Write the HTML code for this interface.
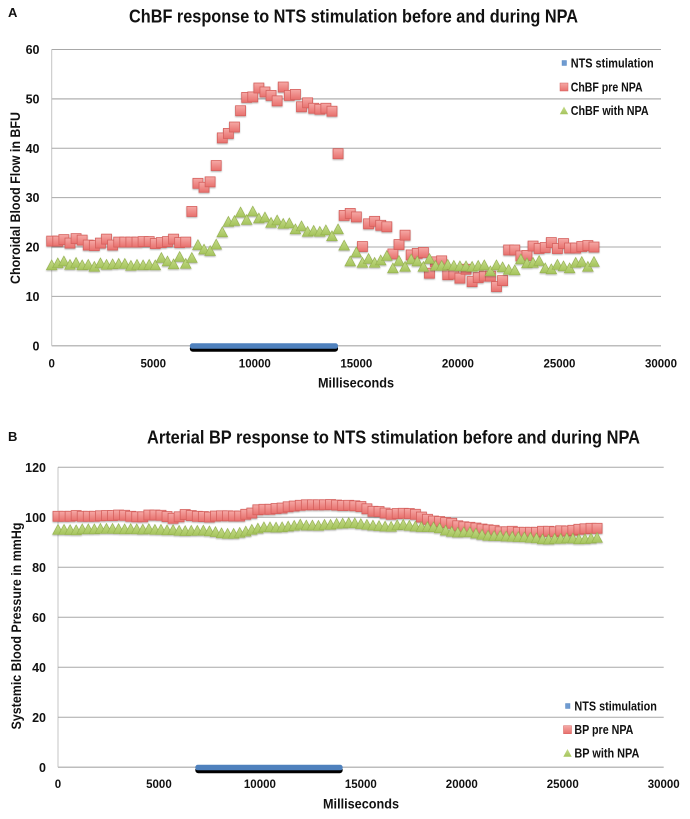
<!DOCTYPE html>
<html>
<head>
<meta charset="utf-8">
<title>ChBF and BP response to NTS stimulation</title>
<style>
html,body{margin:0;padding:0;background:#fff;}
svg{display:block;font-family:"Liberation Sans",sans-serif;filter:blur(0.3px);}
text{fill:#111;font-weight:bold;}
</style>
</head>
<body>
<svg id="figure" width="690" height="819" viewBox="0 0 690 819" xmlns="http://www.w3.org/2000/svg">
<defs>
<linearGradient id="redGrad" x1="0" y1="0" x2="0" y2="1"><stop offset="0" stop-color="#f5a9a6"/><stop offset="1" stop-color="#e8706d"/></linearGradient>
<linearGradient id="greenGrad" x1="0" y1="0" x2="0" y2="1"><stop offset="0" stop-color="#c6dc8c"/><stop offset="1" stop-color="#a5c45c"/></linearGradient>
<filter id="markerShadow" x="-10%" y="-10%" width="120%" height="120%"><feDropShadow dx="0" dy="1" stdDeviation="0.7" flood-color="#000" flood-opacity="0.3"/></filter>
</defs>
<text x="8" y="17" font-size="13">A</text>
<text x="129" y="22.5" font-size="18" textLength="449" lengthAdjust="spacingAndGlyphs">ChBF response to NTS stimulation before and during NPA</text>
<text transform="translate(20,198) rotate(-90)" text-anchor="middle" font-size="13.5" textLength="172" lengthAdjust="spacingAndGlyphs">Choroidal Blood Flow in BFU</text>
<text x="356" y="387.5" text-anchor="middle" font-size="13.5" textLength="76" lengthAdjust="spacingAndGlyphs">Milliseconds</text>
<text x="8" y="441" font-size="13">B</text>
<text x="147" y="443.5" font-size="18" textLength="493" lengthAdjust="spacingAndGlyphs">Arterial BP response to NTS stimulation before and during NPA</text>
<text transform="translate(21,626) rotate(-90)" text-anchor="middle" font-size="13.5" textLength="207" lengthAdjust="spacingAndGlyphs">Systemic Blood Pressure in mmHg</text>
<text x="361" y="808.5" text-anchor="middle" font-size="13.5" textLength="76" lengthAdjust="spacingAndGlyphs">Milliseconds</text>
</svg>
<script>
const timeMs = [0,300,600,900,1200,1500,1800,2100,2400,2700,3000,3300,3600,3900,4200,4500,4800,5100,5400,5700,6000,6300,6600,6900,7200,7500,7800,8100,8400,8700,9000,9300,9600,9900,10200,10500,10800,11100,11400,11700,12000,12300,12600,12900,13200,13500,13800,14100,14400,14700,15000,15300,15600,15900,16200,16500,16800,17100,17400,17700,18000,18300,18600,18900,19200,19500,19800,20100,20400,20700,21000,21300,21600,21900,22200,22500,22800,23100,23400,23700,24000,24300,24600,24900,25200,25500,25800,26100,26400,26700];
const xTickValues = [0,5000,10000,15000,20000,25000,30000];
const chbfTicks = [0,10,20,30,40,50,60];
const bpTicks = [0,20,40,60,80,100,120];
const stimStartEnd = [6900,14000];
const chbfPre = [21.2,21.2,21.5,20.8,21.7,21.4,20.4,20.3,20.8,21.6,20.4,21,21,21,21,21.1,21.1,20.7,20.9,21.1,21.6,20.9,21,27.2,32.9,32.1,33.2,36.5,42.1,43,44.3,47.6,50.3,50.4,52.2,51.4,50.7,49.6,52.4,50.7,50.9,48.4,49.2,48.1,47.9,48.1,47.5,38.9,26.4,26.8,26.1,20.1,24.7,25.2,24.4,24.1,18.6,20.5,22.4,18.4,18.7,18.9,14.7,17,17.2,14.4,14.5,13.7,15.5,13,13.8,14.1,14.1,12,13.2,19.4,19.4,18.2,18.3,20.2,19.7,19.9,20.9,19.7,20.7,19.8,19.8,20.1,20.3,20];
const chbfNpa = [16.3,16.7,17.1,16.4,16.8,16.3,16.4,16,16.7,16.4,16.5,16.6,16.6,16.2,16.4,16.3,16.4,16.3,17.8,17.1,16.5,18,16.6,17.8,20.4,19.5,19.2,20.5,23,25.1,25.3,27,25.5,27.2,25.8,26,24.9,25.4,24.7,24.8,23.6,24.2,23.1,23.3,23.1,23.4,22.2,23.6,20.3,17.1,18.9,16.8,17.6,16.8,17.3,18.2,15.7,17.2,16,17.5,17.1,16,17.6,16.2,16.2,16.4,16.2,16.1,16.1,16,16.2,16.3,15.1,16.3,15.9,15.4,15.3,17.5,16.7,16.8,17.2,15.7,15.5,16.4,16.1,15.7,16.8,17,16,17];
const bpPre = [100.4,100.4,100.4,100.7,100.4,100.4,100.4,100.6,100.7,100.7,100.9,100.8,100.4,100.2,100.2,100.9,100.9,100.8,100.3,99.6,100.2,101.1,100.7,100.4,100.3,100.1,100.5,100.6,100.6,100.5,100.5,101.2,101.7,103,103.2,103.2,103.5,103.7,104.2,104.5,104.8,105,105,105,105,105.1,104.9,104.7,104.8,104.6,104.3,103.4,102.4,102.3,101.7,101.2,101.5,101.6,101.5,101.2,100.1,99.2,98.5,98.3,97.9,97.6,96.6,96.2,96,95.7,95.3,95,94.8,94.2,94.2,94.4,94,94,94,94,94.4,94.4,94.2,94.6,94.5,94.8,95.2,95.4,95.6,95.6];
const bpNpa = [95,95,94.9,94.8,95.2,95.2,95.2,95.4,95.4,95.4,95.3,95.2,95.3,95.2,95.1,95.3,95,95,94.8,94.9,94.6,94.5,94.6,94.6,94.7,94.4,94.1,93.6,93.4,93.4,93.8,94.3,95,95.5,96,96,95.9,96,96.3,96.6,97.1,96.7,96.7,96.6,97,97,97.4,97.5,97.7,97.6,97.3,97,96.7,96.5,96.3,96.2,96.8,97,96.6,96.3,96.1,96.1,96,95.6,94.7,94.2,93.9,94,94,93.5,93,92.6,92.5,92.5,92.3,92.2,92.1,92,91.8,91.6,91.2,91.1,91.4,91.4,91.6,91.5,91.2,91.3,91.5,91.8];
const xMax = 30000;

const svg = document.getElementById('figure');
const NS = 'http://www.w3.org/2000/svg';

function mk(tag, attrs, parent, content) {
  const el = document.createElementNS(NS, tag);
  for (const k in attrs) el.setAttribute(k, attrs[k]);
  if (content !== undefined) el.textContent = content;
  parent.appendChild(el);
  return el;
}

function drawChart(cfg) {
  const xScale = v => cfg.left + (v / xMax) * (cfg.right - cfg.left);
  const yMax = cfg.yTicks[cfg.yTicks.length - 1];
  const yScale = v => cfg.zeroY - (v / yMax) * (cfg.zeroY - cfg.topY);

  const axisLine = mk('line', {x1: cfg.left, x2: cfg.left, y1: cfg.topY, y2: cfg.zeroY, stroke: '#c4c4c4', 'stroke-width': 1}, svg);
  
  

  cfg.yTicks.forEach(t => {
    const y = yScale(t);
    const heavy = t === 0 || t === cfg.heavyTick;
    const grid = mk('line', {x1: cfg.left, x2: cfg.right, y1: y, y2: y, stroke: heavy ? '#bdbdbd' : '#a8a8a8', 'stroke-width': heavy ? 1.5 : 1}, svg);
    
    
    const lab = mk('text', {x: cfg.yLabelRight, y: y + 4.5, 'text-anchor': 'end', 'font-size': 12.5}, svg, String(t));
    
    
  });

  xTickValues.forEach(t => {
    const lab = mk('text', {x: xScale(t), y: cfg.xLabelY, 'text-anchor': 'middle', 'font-size': 11.5}, svg, String(t));
    
    
  });

  const bar = mk('g', {}, svg);
  
  
  const x0 = xScale(stimStartEnd[0]), x1 = xScale(stimStartEnd[1]), y0 = yScale(0);
  mk('rect', {x: x0 - 2, y: y0 - 0.5, width: x1 - x0 + 4, height: 6.5, rx: 3, fill: '#000'}, bar);
  mk('rect', {x: x0 - 2, y: y0 - 2.5, width: x1 - x0 + 4, height: 5.5, rx: 2.5, fill: '#4f81bd'}, bar);

  const preGroup = mk('g', {filter: 'url(#markerShadow)'}, svg);
  
  
  cfg.pre.forEach((v, i) => {
    const m = mk('rect', {x: xScale(timeMs[i]) - 5, y: yScale(v) - 5, width: 10, height: 10, fill: 'url(#redGrad)', stroke: '#d5605d', 'stroke-width': 0.8}, preGroup);
    
    
  });

  const npaGroup = mk('g', {filter: 'url(#markerShadow)'}, svg);
  
  
  cfg.npa.forEach((v, i) => {
    const cx = xScale(timeMs[i]), cy = yScale(v);
    const m = mk('polygon', {points: (cx - 5.3) + ',' + (cy + 4.5) + ' ' + (cx + 5.3) + ',' + (cy + 4.5) + ' ' + cx + ',' + (cy - 5.3), fill: 'url(#greenGrad)', stroke: '#97b352', 'stroke-width': 0.7}, npaGroup);
    
    
  });

  const legend = mk('g', {}, svg);
  
  
  const lx = cfg.legendX;
  mk('rect', {x: lx - 2, y: cfg.legendY[0] - 2.5, width: 4.5, height: 5, fill: '#6f9bd1', stroke: '#4f81bd', 'stroke-width': 0.4}, legend);
  mk('rect', {x: lx - 4, y: cfg.legendY[1] - 4, width: 8, height: 8, fill: 'url(#redGrad)', stroke: '#d5605d', 'stroke-width': 0.5}, legend);
  mk('polygon', {points: (lx - 4.2) + ',' + (cfg.legendY[2] + 3.8) + ' ' + (lx + 4.2) + ',' + (cfg.legendY[2] + 3.8) + ' ' + lx + ',' + (cfg.legendY[2] - 4), fill: 'url(#greenGrad)'}, legend);
  cfg.legendLabels.forEach((s, i) => {
    const t = mk('text', {x: cfg.legendTextX, y: cfg.legendY[i] + 4.5, 'font-size': 12.5, textLength: cfg.legendWidths[i], lengthAdjust: 'spacingAndGlyphs'}, legend, s);
    
    
  });
}

drawChart({
  id: 'panel-a', left: 51.7, right: 661, topY: 49.5, zeroY: 345.8, yTicks: chbfTicks, heavyTick: 50,
  yLabelRight: 39.5, xLabelY: 367.5, pre: chbfPre, npa: chbfNpa,
  legendX: 564, legendTextX: 570.7, legendY: [63, 87, 110.5],
  legendLabels: ['NTS stimulation', 'ChBF pre NPA', 'ChBF with NPA'], legendWidths: [83, 72, 78]
});
drawChart({
  id: 'panel-b', left: 58, right: 663.7, topY: 467.3, zeroY: 767.3, yTicks: bpTicks, heavyTick: null,
  yLabelRight: 46, xLabelY: 788, pre: bpPre, npa: bpNpa,
  legendX: 567.5, legendTextX: 574.4, legendY: [706, 729.7, 753],
  legendLabels: ['NTS stimulation', 'BP pre NPA', 'BP with NPA'], legendWidths: [82.5, 59, 65]
});
</script>
</body>
</html>
